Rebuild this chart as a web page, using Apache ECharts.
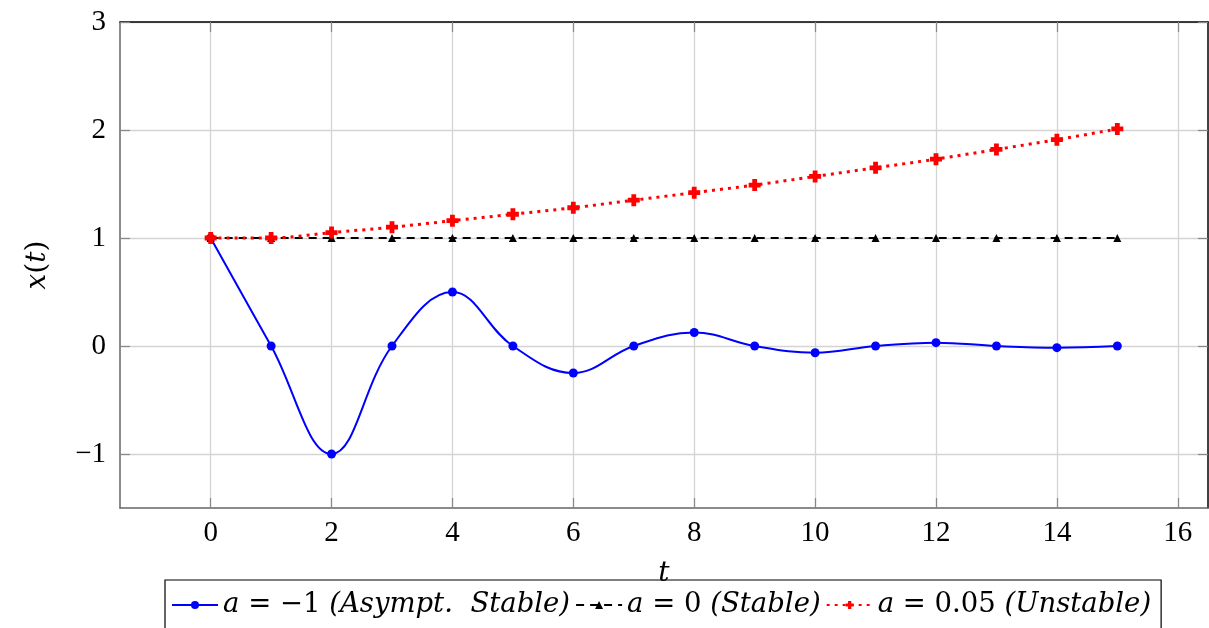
<!DOCTYPE html>
<html>
<head>
<meta charset="utf-8">
<script src="https://cdn.jsdelivr.net/npm/echarts@6/dist/echarts.min.js"></script>
<style>
html, body { margin: 0; padding: 0; background: #fff; }
#chart { width: 1209px; height: 628px; }
</style>
</head>
<body>
<div id="chart"></div>
<script>
// data
var tValues = [0, 1, 2, 3, 4, 5, 6, 7, 8, 9, 10, 11, 12, 13, 14, 15];
var stableNeg = [1, 0, -1, 0, 0.5, 0, -0.25, 0, 0.125, 0, -0.0625, 0, 0.03125, 0, -0.015625, 0];
var stableZero = [1, 1, 1, 1, 1, 1, 1, 1, 1, 1, 1, 1, 1, 1, 1, 1];
var unstable = [1, 1, 1.05, 1.1, 1.16, 1.22, 1.28, 1.35, 1.42, 1.49, 1.57, 1.65, 1.73, 1.82, 1.91, 2.01];
var xTicks = [0, 2, 4, 6, 8, 10, 12, 14, 16];
var yTicks = [-1, 0, 1, 2, 3];
var seriesNames = ['a = −1 (Asympt. Stable)', 'a = 0 (Stable)', 'a = 0.05 (Unstable)'];
var legendRich = [
    '{i|a} = −1 {i|(Asympt.  Stable)}',
    '{i|a} = 0 {i|(Stable)}',
    '{i|a} = 0.05 {i|(Unstable)}'
];

var serif = '"Liberation Serif", "DejaVu Serif", serif';
var wideSerif = '"DejaVu Serif", serif';

function pairs(ys) {
    return tValues.map(function (t, i) { return [t, ys[i]]; });
}

var myChart = echarts.init(document.getElementById('chart'));

var tickStyle = { show: true, inside: true, length: 10, lineStyle: { color: '#888', width: 1.2 } };
var gridLine = { show: true, lineStyle: { color: '#d4d4d4', width: 1.3 } };

var option = {
    animation: false,
    backgroundColor: '#fff',
    grid: { left: 120, right: 1, top: 22, bottom: 120 },
    legend: {
        left: 165,
        top: 580,
        padding: [11, 10, 20, 6],
        itemGap: 5,
        itemWidth: 46,
        itemHeight: 10,
        borderColor: '#000',
        borderWidth: 1.2,
        borderRadius: 0,
        data: seriesNames,
        formatter: function (name) {
            return legendRich[seriesNames.indexOf(name)];
        },
        textStyle: {
            fontFamily: wideSerif, fontSize: 27.5, color: '#000', fontStyle: 'normal',
            rich: {
                i: { fontFamily: wideSerif, fontSize: 27.5, fontStyle: 'italic', color: '#000' }
            }
        }
    },
    xAxis: [{
        type: 'value',
        min: -1.5,
        max: 16.5,
        name: 't',
        nameLocation: 'middle',
        nameGap: 52,
        nameTextStyle: { fontFamily: wideSerif, fontSize: 28, fontStyle: 'italic', color: '#000' },
        axisLine: { show: true, onZero: false, lineStyle: { color: '#666', width: 1.5 } },
        axisTick: Object.assign({ customValues: xTicks }, tickStyle),
        axisLabel: { customValues: xTicks, fontFamily: serif, fontSize: 29, color: '#000', margin: 11 },
        splitLine: Object.assign({ customValues: xTicks }, gridLine)
    }, {
        type: 'value',
        position: 'top',
        min: -1.5,
        max: 16.5,
        axisLine: { show: true, onZero: false, lineStyle: { color: '#000', width: 1.5 } },
        axisTick: Object.assign({ customValues: xTicks }, tickStyle),
        axisLabel: { show: false },
        splitLine: { show: false }
    }],
    yAxis: [{
        type: 'value',
        min: -1.5,
        max: 3,
        name: '{i|x}({i|t})',
        nameLocation: 'middle',
        nameGap: 68,
        nameTextStyle: {
            fontFamily: wideSerif, fontSize: 28, color: '#000',
            rich: { i: { fontFamily: wideSerif, fontSize: 28, fontStyle: 'italic', color: '#000' } }
        },
        axisLine: { show: true, onZero: false, lineStyle: { color: '#666', width: 1.5 } },
        axisTick: Object.assign({ customValues: yTicks }, tickStyle),
        axisLabel: {
            customValues: yTicks, fontFamily: serif, fontSize: 29, color: '#000', margin: 14,
            formatter: function (v) { return v < 0 ? '−' + Math.abs(v) : String(v); }
        },
        splitLine: Object.assign({ customValues: yTicks }, gridLine)
    }, {
        type: 'value',
        position: 'right',
        min: -1.5,
        max: 3,
        axisLine: { show: true, onZero: false, lineStyle: { color: '#000', width: 1.5 } },
        axisTick: Object.assign({ customValues: yTicks }, tickStyle),
        axisLabel: { show: false },
        splitLine: { show: false }
    }],
    series: [{
        name: seriesNames[0],
        type: 'line',
        smooth: 0.4,
        data: pairs(stableNeg),
        symbol: 'circle',
        symbolSize: 9,
        itemStyle: { color: '#0000ff' },
        lineStyle: { color: '#0000ff', width: 2 },
        z: 3
    }, {
        name: seriesNames[1],
        type: 'line',
        data: pairs(stableZero),
        symbol: 'triangle',
        symbolSize: 8,
        itemStyle: { color: '#000' },
        lineStyle: { color: '#000', width: 2, type: [8, 6] },
        z: 4
    }, {
        name: seriesNames[2],
        type: 'line',
        smooth: 0.3,
        data: pairs(unstable),
        symbol: 'path://M3,0H7V3H10V7H7V10H3V7H0V3H3Z',
        symbolSize: 12,
        itemStyle: { color: '#ff0000' },
        lineStyle: { color: '#ff0000', width: 3, type: [3, 5] },
        z: 5
    }]
};

myChart.setOption(option);
</script>
</body>
</html>
